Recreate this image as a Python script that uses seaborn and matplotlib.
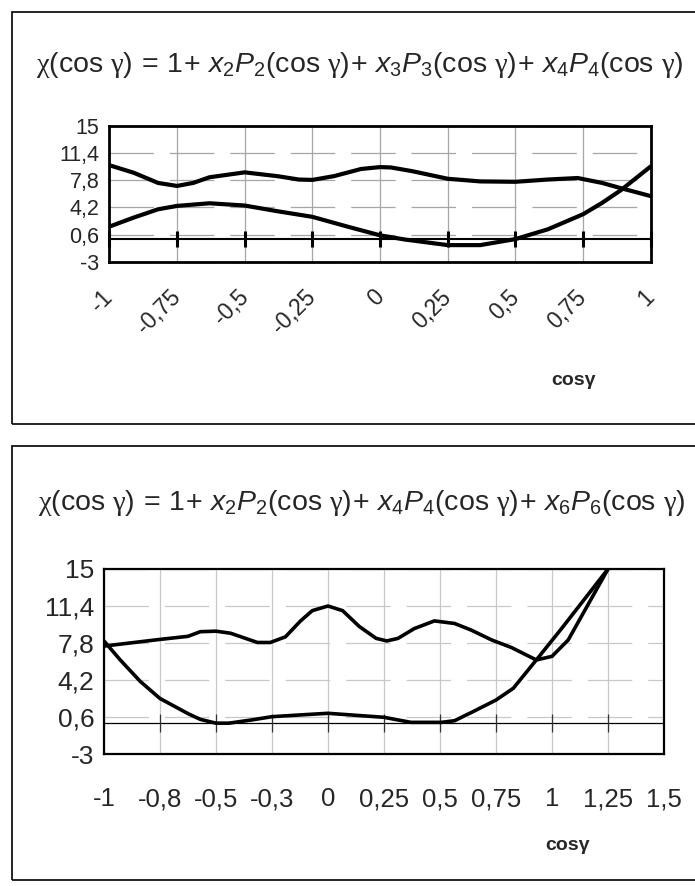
import matplotlib
matplotlib.use("Agg")
import matplotlib.pyplot as plt
import seaborn as sns
from matplotlib.patches import Rectangle

# ── Data ─────────────────────────────────────────────────────────────────────
Y_TICKS = [-3, 0.6, 4.2, 7.8, 11.4, 15]
Y_TICK_LABELS = ["-3", "0,6", "4,2", "7,8", "11,4", "15"]

# top chart (x in cos gamma)
TOP_TICKS = [-1, -0.75, -0.5, -0.25, 0, 0.25, 0.5, 0.75, 1]
TOP_TICK_LABELS = ["-1", "-0,75", "-0,5", "-0,25", "0", "0,25", "0,5", "0,75", "1"]
top_a_x = [-1.0, -0.91, -0.82, -0.75, -0.69, -0.63, -0.5, -0.38, -0.3, -0.25,
           -0.17, -0.07, 0.0, 0.04, 0.12, 0.25, 0.37, 0.5, 0.62, 0.73, 0.82, 0.89, 1.0]
top_a_y = [9.8, 8.8, 7.45, 7.05, 7.45, 8.2, 8.85, 8.35, 7.9, 7.85,
           8.35, 9.3, 9.55, 9.5, 9.0, 8.0, 7.65, 7.6, 7.9, 8.1, 7.45, 6.75, 5.7]
top_b_x = [-1.0, -0.91, -0.82, -0.75, -0.63, -0.5, -0.38, -0.25, -0.12, 0.0,
           0.09, 0.25, 0.37, 0.5, 0.62, 0.75, 0.82, 0.89, 1.0]
top_b_y = [1.65, 2.85, 3.95, 4.4, 4.75, 4.45, 3.7, 2.95, 1.65, 0.5,
           -0.05, -0.8, -0.8, 0.0, 1.3, 3.3, 4.8, 6.5, 9.65]

# bottom chart (category axis, x = category position)
BOT_TICK_LABELS = ["-1", "-0,8", "-0,5", "-0,3", "0", "0,25", "0,5", "0,75", "1", "1,25", "1,5"]
bot_a_pos = [0, 1.0, 1.5, 1.72, 2.0, 2.26, 2.74, 2.97, 3.24, 3.51, 3.72, 4.0, 4.26, 4.56,
             4.86, 5.05, 5.25, 5.54, 5.9, 6.26, 6.56, 6.92, 7.28, 7.72, 8.0, 8.29, 9.0]
bot_a_y = [7.5, 8.15, 8.45, 8.9, 8.95, 8.75, 7.85, 7.85, 8.4, 9.95, 10.95, 11.4, 10.95, 9.4,
           8.25, 8.0, 8.25, 9.2, 9.95, 9.7, 9.05, 8.1, 7.35, 6.15, 6.5, 8.1, 15.0]
bot_b_pos = [0, 0.29, 0.65, 1.0, 1.51, 1.72, 2.0, 2.23, 2.62, 3.0, 3.5, 4.0, 5.0, 5.48,
             6.03, 6.26, 6.59, 7.0, 7.31, 7.72, 8.17, 9.0]
bot_b_y = [8.0, 6.15, 4.05, 2.4, 0.9, 0.37, 0.0, 0.0, 0.3, 0.63, 0.8, 0.96, 0.57, 0.08,
           0.08, 0.24, 1.12, 2.25, 3.4, 6.15, 9.2, 15.0]

CG = r"\mathrm{cos}\ \mathsf{\gamma}"
TITLE_TOP = (r"$\mathsf{\chi}(" + CG + r")\,=\,1\!+\,x_2P_2(" + CG + r")\!+\,x_3P_3(" + CG
             + r")\!+\,x_4P_4(" + CG + r")$")
TITLE_BOT = (r"$\mathsf{\chi}(" + CG + r")\,=\,1\!+\,x_2P_2(" + CG + r")\!+\,x_4P_4(" + CG
             + r")\!+\,x_6P_6(" + CG + r")$")

# ── Style ────────────────────────────────────────────────────────────────────
sns.set_style("white")
plt.rcParams["font.family"] = ["Liberation Sans", "DejaVu Sans"]
plt.rcParams["mathtext.fontset"] = "custom"
plt.rcParams["mathtext.rm"] = "Liberation Sans"
plt.rcParams["mathtext.it"] = "Liberation Sans:italic"
plt.rcParams["mathtext.sf"] = "Liberation Serif"
plt.rcParams["lines.scale_dashes"] = False

GRID = "#a6a6a6"
DASH = (0, (32, 11.5))
W, H = 695, 886

fig = plt.figure(figsize=(W / 100, H / 100), dpi=100)

def fx(px):
    return px / W

def fy(py):
    return 1 - py / H

# panel boxes
fig.patches.append(Rectangle((fx(12), fy(424)), 1.2, (424 - 12) / H, transform=fig.transFigure,
                             fill=False, ec="black", lw=1.2))
fig.patches.append(Rectangle((fx(12), fy(880)), 1.2, (880 - 446) / H, transform=fig.transFigure,
                             fill=False, ec="black", lw=1.2))

# ── Top chart ────────────────────────────────────────────────────────────────
ax = fig.add_axes([fx(109.3), fy(261.7), fx(650.8 - 109.3), (261.7 - 126) / H])
sns.lineplot(x=top_a_x, y=top_a_y, ax=ax, color="black", lw=3.0, sort=False, estimator=None)
sns.lineplot(x=top_b_x, y=top_b_y, ax=ax, color="black", lw=3.0, sort=False, estimator=None)
ax.set_xlim(-1, 1)
ax.set_ylim(-3, 15)
ax.set_yticks(Y_TICKS, Y_TICK_LABELS)
ax.set_xticks(TOP_TICKS, TOP_TICK_LABELS)
ax.xaxis.grid(True, color=GRID, lw=0.9)
ax.yaxis.grid(True, color=GRID, lw=0.9, linestyle=DASH)
ax.set_axisbelow(True)
for s in ax.spines.values():
    s.set_linewidth(2)
    s.set_color("black")
ax.tick_params(axis="y", direction="inout", length=12, width=1.8, color="black", pad=1,
               labelsize=15.5)
ax.tick_params(axis="x", length=0, pad=23, labelsize=16.5)
for lab in ax.get_xticklabels():
    lab.set_rotation(45)
    lab.set_ha("right")
    lab.set_va("center")
    lab.set_rotation_mode("anchor")
# value axis crossing at 0, with its category tick marks
ax.axhline(0, color="black", lw=1.5, zorder=1.5)
ax.plot(TOP_TICKS, [0] * len(TOP_TICKS), ls="none", marker="|", ms=12, mew=2.2,
        color="black", zorder=1.6, clip_on=False)
fig.text(fx(360), fy(65), TITLE_TOP, ha="center", va="center", fontsize=20.5)
fig.text(fx(573), fy(381), "cosγ", ha="center", va="center", fontsize=14, fontweight="bold")

# ── Bottom chart ─────────────────────────────────────────────────────────────
n = len(BOT_TICK_LABELS)
bx = fig.add_axes([fx(104), fy(754), fx(664 - 104), (754 - 569) / H])
sns.lineplot(x=bot_a_pos, y=bot_a_y, ax=bx, color="black", lw=2.6, sort=False, estimator=None)
sns.lineplot(x=bot_b_pos, y=bot_b_y, ax=bx, color="black", lw=2.6, sort=False, estimator=None)
bx.set_xlim(0, n - 1)
bx.set_ylim(-3, 15)
bx.set_yticks(Y_TICKS, Y_TICK_LABELS)
bx.set_xticks(range(n), BOT_TICK_LABELS)
bx.xaxis.grid(True, color="#c8c8c8", lw=0.9)
bx.yaxis.grid(True, color="#c8c8c8", lw=0.9, linestyle=DASH)
bx.set_axisbelow(True)
for s in bx.spines.values():
    s.set_linewidth(1.6)
    s.set_color("black")
bx.tick_params(axis="y", direction="inout", length=10, width=0.8, color="black", pad=2,
               labelsize=19)
bx.tick_params(axis="x", length=0, pad=24, labelsize=18.5)
bx.axhline(0, color="black", lw=0.9, zorder=1.5)
bx.plot(list(range(1, n - 1)), [0] * (n - 2), ls="none", marker="|", ms=13, mew=0.9,
        color="#333333", zorder=1.6)
fig.text(fx(362), fy(503), TITLE_BOT, ha="center", va="center", fontsize=20.5)
fig.text(fx(568), fy(845), "cosγ", ha="center", va="center", fontsize=14, fontweight="bold")

fig.savefig("out.png", dpi=100)
